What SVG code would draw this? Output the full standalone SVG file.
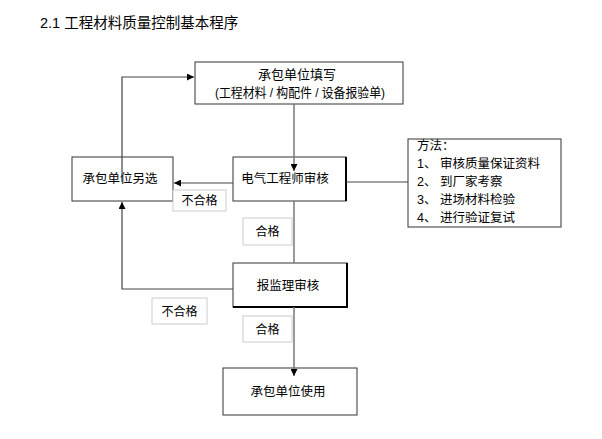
<svg xmlns="http://www.w3.org/2000/svg" width="602" height="439" viewBox="0 0 602 439">
<defs>
<style>
text{font-family:"Liberation Sans","Noto Sans CJK SC",sans-serif;font-size:12.5px;fill:#000}
.box{fill:#fff;stroke:#333;stroke-width:1}
.lbl{fill:#fff;stroke:#ccc;stroke-width:1}
.ln{fill:none;stroke:#444;stroke-width:1.2}
.ln2{fill:none;stroke:#777;stroke-width:1.5}
.s{font-size:12px}
</style>
<marker id="ah" viewBox="0 0 10 10" refX="10" refY="5" markerWidth="7" markerHeight="7" orient="auto" markerUnits="userSpaceOnUse"><path d="M0,0 L10,5 L0,10 z" fill="#000"/></marker>
</defs>
<rect width="602" height="439" fill="#fff"/>
<text x="40" y="28" style="font-size:14.5px">2.1  工程材料质量控制基本程序</text>

<g id="n1"><rect class="box" x="195" y="62" width="208" height="42"/>
<text x="297" y="79" text-anchor="middle" style="font-size:13px">承包单位填写</text>
<text x="215" y="97" textLength="170" lengthAdjust="spacingAndGlyphs" style="font-size:13px">(工程材料 / 构配件 / 设备报验单)</text></g>

<g id="n2"><rect class="box" x="72" y="157" width="101" height="44"/>
<text x="120" y="183" text-anchor="middle">承包单位另选</text></g>

<g id="n3"><rect class="box" x="233" y="157" width="113" height="44"/>
<line x1="346" y1="157" x2="346" y2="201" stroke="#000" stroke-width="2"/>
<text x="285" y="183" text-anchor="middle">电气工程师审核</text></g>

<g id="n4"><rect class="box" x="408" y="139" width="153" height="88"/>
<text x="417" y="150">方法：</text>
<text x="417" y="168">1、  审核质量保证资料</text>
<text x="417" y="186">2、  到厂家考察</text>
<text x="417" y="204">3、  进场材料检验</text>
<text x="417" y="222">4、 进行验证复试</text></g>

<g id="n5"><rect class="box" x="233" y="263" width="114" height="44"/>
<path d="M347,263 V307 H233" fill="none" stroke="#000" stroke-width="2"/>
<text x="288" y="290" text-anchor="middle">报监理审核</text></g>

<g id="n6"><rect class="box" x="223" y="368" width="134" height="47"/>
<text x="288" y="396" text-anchor="middle">承包单位使用</text></g>

<g id="connectors">
<line class="ln2" x1="294" y1="104" x2="294" y2="171" marker-end="url(#ah)"/>
<line class="ln" x1="233" y1="183" x2="174" y2="183" marker-end="url(#ah)"/>
<line class="ln" x1="346" y1="182" x2="408" y2="182"/>
<line class="ln2" x1="294" y1="201" x2="294" y2="263"/>
<polyline class="ln" points="233,289 122,289 122,202" marker-end="url(#ah)"/>
<polyline class="ln" points="122,182 122,77 194,77" marker-end="url(#ah)"/>
<line class="ln2" x1="294" y1="307" x2="294" y2="376" marker-end="url(#ah)"/>
</g>

<g id="labels">
<rect class="lbl" x="173" y="190" width="53" height="21"/>
<text class="s" x="199.5" y="205" text-anchor="middle">不合格</text>
<rect class="lbl" x="243" y="218" width="49" height="27"/>
<text class="s" x="267.5" y="236" text-anchor="middle">合格</text>
<rect class="lbl" x="152" y="298" width="55" height="26"/>
<text class="s" x="179.5" y="316" text-anchor="middle">不合格</text>
<rect class="lbl" x="243" y="316" width="49" height="26"/>
<text class="s" x="267.5" y="334" text-anchor="middle">合格</text>
</g>
</svg>
